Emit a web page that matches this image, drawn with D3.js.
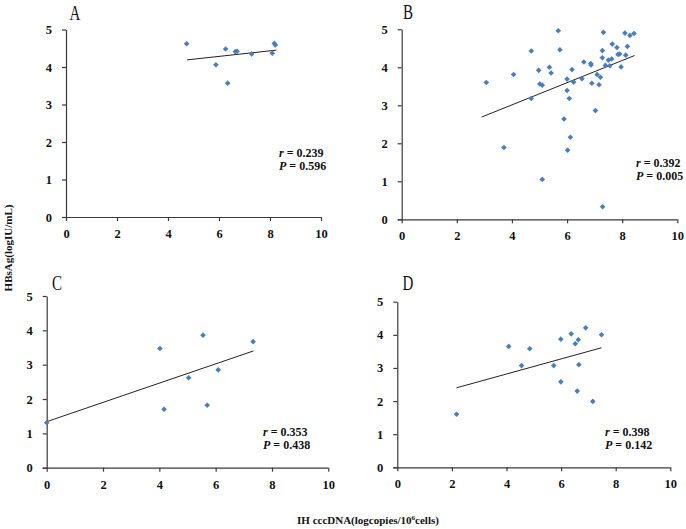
<!DOCTYPE html>
<html><head><meta charset="utf-8">
<script src="https://cdn.jsdelivr.net/npm/d3@7"></script>
<style>body{margin:0;background:#fff}svg{display:block}text{font-family:"Liberation Serif","Times New Roman",serif}</style>
</head><body>
<svg id="c" width="686" height="529"></svg>
<script>
const panelNames = ["A","B","C","D"];
const xTicks = [0,2,4,6,8,10];
const yTicks = [0,1,2,3,4,5];
const rValues = ["0.239","0.392","0.353","0.398"];
const pValues = ["0.596","0.005","0.438","0.142"];

const pointsA = [[4.73,4.62],[6.26,4.48],[5.88,4.06],[6.64,4.41],[6.71,4.42],[6.34,3.57],[7.28,4.35],[8.09,4.37],[8.17,4.63],[8.21,4.59]];
const pointsB = [[3.07,3.60],[3.71,1.89],[4.06,3.81],[4.70,4.43],[4.70,3.18],[4.97,3.92],[5.01,3.56],[5.10,3.53],[5.10,1.05],[5.36,4.00],[5.42,3.85],[5.68,4.96],[5.74,4.46],[5.89,2.64],[6.00,3.69],[6.00,3.39],[6.02,1.82],[6.08,3.18],[6.12,2.16],[6.18,3.94],[6.24,3.61],[6.54,3.70],[6.61,4.14],[6.86,4.10],[6.87,4.06],[6.90,3.58],[7.03,2.86],[7.09,3.81],[7.16,3.54],[7.21,3.74],[7.28,4.44],[7.28,4.25],[7.32,4.92],[7.29,0.33],[7.39,4.05],[7.50,4.19],[7.55,4.04],[7.62,4.22],[7.64,4.61],[7.81,4.52],[7.85,4.34],[7.91,4.35],[7.96,4.01],[8.10,4.90],[8.13,4.32],[8.19,4.55],[8.28,4.84],[8.43,4.89]];
const pointsC = [[0,1.31],[4.02,3.47],[4.17,1.70],[5.04,2.62],[5.55,3.86],[5.70,1.82],[6.09,2.85],[7.33,3.67]];
const pointsD = [[2.17,1.60],[4.08,3.65],[4.55,3.07],[4.85,3.58],[5.73,3.07],[5.99,3.87],[5.99,2.58],[6.37,4.03],[6.52,3.73],[6.63,3.85],[6.65,3.10],[6.59,2.30],[6.90,4.21],[7.16,1.99],[7.48,4.00]];
// trend lines: [x1, y1, x2, y2]
const trendA = [4.75,4.19,8.25,4.45];
const trendB = [2.90,2.69,8.45,4.31];
const trendC = [0,1.34,7.34,3.40];
const trendD = [2.17,2.40,7.48,3.61];

const allPoints = [pointsA,pointsB,pointsC,pointsD];
const allTrends = [trendA,trendB,trendC,trendD];

// layout (pixel frames)
const frames = [
  {x0:66, x1:321, y0:217, y1:29.5, tx:75, ty:20, ax:279, ay:157},
  {x0:401.7, x1:677.3, y0:219.3, y1:29.3, tx:408, ty:19, ax:636, ay:167},
  {x0:46.7, x1:328.3, y0:467.7, y1:296, tx:57, ty:290, ax:263, ay:436},
  {x0:397.3, x1:670.3, y0:467.3, y1:301.7, tx:408, ty:290, ax:605, ay:436}
];

const svg = d3.select("#c");
const axisCol = "#3a3a3a";
const diamond = "M0,-2.8L2.8,0L0,2.8L-2.8,0Z";

frames.forEach((f,i)=>{
  const x = d3.scaleLinear().domain([0,10]).range([f.x0,f.x1]);
  const y = d3.scaleLinear().domain([0,5]).range([f.y0,f.y1]);
  const g = svg.append("g");

  const gy = g.append("g").attr("transform",`translate(${f.x0},0)`)
    .call(d3.axisLeft(y).tickValues(yTicks).tickSize(4).tickSizeOuter(0).tickPadding(10).tickFormat(d3.format("d")));
  const gx = g.append("g").attr("transform",`translate(0,${f.y0})`)
    .call(d3.axisBottom(x).tickValues(xTicks).tickSize(4).tickSizeOuter(0).tickPadding(8).tickFormat(d3.format("d")));
  [gx,gy].forEach(a=>{
    a.selectAll("path,line").attr("stroke",axisCol).attr("stroke-width",1.2);
    a.selectAll("text").attr("font-family","Liberation Serif").attr("font-weight","bold").attr("font-size",12.5).attr("fill","#111");
  });
  gx.select(".domain").attr("d",`M${f.x0-4},0.5H${f.x1}`);

  const t = allTrends[i];
  g.append("line").attr("x1",x(t[0])).attr("y1",y(t[1])).attr("x2",x(t[2])).attr("y2",y(t[3]))
    .attr("stroke","#222").attr("stroke-width",1);

  g.selectAll("path.pt").data(allPoints[i]).join("path").attr("class","pt")
    .attr("d",diamond)
    .attr("transform",d=>`translate(${x(d[0])},${y(d[1])})`)
    .attr("fill","#4a7ebb");

  g.append("text").attr("x",f.tx).attr("y",f.ty).attr("text-anchor","middle")
    .attr("font-size",20).attr("transform",`translate(${f.tx},0) scale(0.75,1) translate(${-f.tx},0)`)
    .attr("fill","#111").text(panelNames[i]);

  const r = g.append("text").attr("x",f.ax).attr("y",f.ay).attr("font-size",12).attr("font-weight","bold").attr("fill","#111");
  r.append("tspan").attr("font-style","italic").text("r");
  r.append("tspan").text(" = " + rValues[i]);
  const p = g.append("text").attr("x",f.ax).attr("y",f.ay+13).attr("font-size",12).attr("font-weight","bold").attr("fill","#111");
  p.append("tspan").attr("font-style","italic").text("P");
  p.append("tspan").text(" = " + pValues[i]);
});

svg.append("text").attr("transform","translate(12,248) rotate(-90)").attr("text-anchor","middle")
  .attr("font-size",11).attr("font-weight","bold").attr("fill","#111").text("HBsAg(logIU/mL)");

const xt = svg.append("text").attr("x",368).attr("y",524).attr("text-anchor","middle")
  .attr("font-size",11).attr("font-weight","bold").attr("fill","#111");
xt.append("tspan").text("IH cccDNA(logcopies/10");
xt.append("tspan").attr("font-size",7).attr("dy",-4).text("6");
xt.append("tspan").attr("dy",4).text("cells)");
</script>
</body></html>
